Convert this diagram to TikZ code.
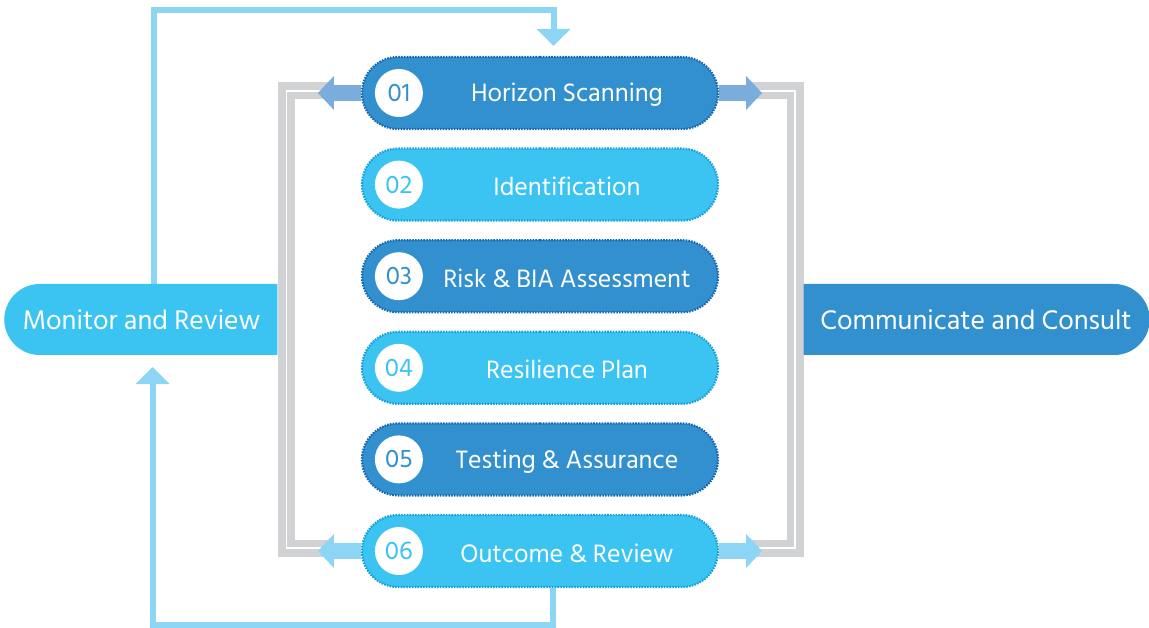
\documentclass[tikz,border=0pt]{standalone}
\usepackage{fontspec}
\setmainfont{Hind Siliguri}
\usetikzlibrary{positioning,shapes.misc,arrows.meta,backgrounds}
\definecolor{deepblue}{HTML}{3390CF}
\definecolor{skyblue}{HTML}{3BC4F2}
\definecolor{deepedge}{HTML}{1766B0}
\definecolor{skyedge}{HTML}{159FDC}
\definecolor{arrowblue}{HTML}{7AACDC}
\definecolor{paleblue}{HTML}{8DD5F5}
\definecolor{framegrey}{HTML}{D1D2D4}

\begin{document}
\begin{tikzpicture}[x=1pt,y=-1pt,node distance=17.4pt]
\tikzstyle{stage} = [rounded rectangle, minimum width=356pt, minimum height=72pt, inner sep=0pt, line width=2.2pt, dash pattern=on 1.6pt off 1.2pt]
\tikzstyle{darkstage} = [stage, fill=deepblue, draw=deepedge]
\tikzstyle{lightstage} = [stage, fill=skyblue, draw=skyedge]
\tikzstyle{num} = [circle, fill=white, minimum size=48pt, inner sep=0pt, font=\fontsize{26}{26}\selectfont]
\tikzstyle{stagetext} = [text=white, inner sep=0pt, yshift=-2pt, font=\fontsize{25.8}{27}\selectfont]
\tikzstyle{side} = [rounded rectangle, minimum height=71pt, inner sep=0pt, text=white, font=\fontsize{27.6}{29}\selectfont]
\tikzstyle{frame} = [draw=framegrey, line width=17pt]
\tikzstyle{frameline} = [draw=white, line width=1.8pt]
\tikzstyle{fatarrow} = [line width=16pt, -{Triangle[width=33pt,length=16pt]}]
\tikzstyle{cycleline} = [draw=paleblue, line width=6pt, -{Triangle[width=33pt,length=17pt]}]
\useasboundingbox (0,0) rectangle (1149,628);

% the six stages
\node (p1) [darkstage] at (540,93) {};
\node (p2) [lightstage, below=of p1] {};
\node (p3) [darkstage, below=of p2] {};
\node (p4) [lightstage, below=of p3] {};
\node (p5) [darkstage, below=of p4] {};
\node (p6) [lightstage, below=of p5] {};

\node (n1) [num, text=deepblue] at ([xshift=38pt]p1.west) {01};
\node (n2) [num, text=skyblue] at ([xshift=38pt]p2.west) {02};
\node (n3) [num, text=deepblue] at ([xshift=38pt]p3.west) {03};
\node (n4) [num, text=skyblue] at ([xshift=38pt]p4.west) {04};
\node (n5) [num, text=deepblue] at ([xshift=38pt]p5.west) {05};
\node (n6) [num, text=skyblue] at ([xshift=38pt]p6.west) {06};

\node (t1) [stagetext] at ([xshift=27pt]p1.center) {Horizon Scanning};
\node (t2) [stagetext] at ([xshift=27pt]p2.center) {Identification};
\node (t3) [stagetext] at ([xshift=27pt]p3.center) {Risk \& BIA Assessment};
\node (t4) [stagetext] at ([xshift=27pt]p4.center) {Resilience Plan};
\node (t5) [stagetext] at ([xshift=27pt]p5.center) {Testing \& Assurance};
\node (t6) [stagetext] at ([xshift=27pt]p6.center) {Outcome \& Review};

% side blocks
\node (mon) [side, fill=skyblue, rounded rectangle right arc=none, minimum width=273pt] at (141.5,319.5) {Monitor and Review};
\node (com) [side, fill=deepblue, rounded rectangle left arc=none, minimum width=346pt] at (976,319.5) {Communicate and Consult};

\coordinate (a1) at ([xshift=-43pt]p1.west);
\coordinate (a2) at ([xshift=43pt]p1.east);
\coordinate (a3) at ([xshift=-43pt]p6.west);
\coordinate (a4) at ([xshift=43pt]p6.east);
\coordinate (tl) at (153.5,10);
\coordinate (tr) at (553.5,10);
\coordinate (ttip) at (553.5,46);
\coordinate (bl) at (152.7,625);
\coordinate (br) at (552.7,625);
\coordinate (btip) at (152.7,367);

\begin{scope}[on background layer]
% grey brackets
\draw [frame] (330,91) -- (286.5,91) -- (286.5,548) -- (330,548);
\draw [frameline] (330,91) -- (286.5,91) -- (286.5,548) -- (330,548);
\draw [frame] (750,91) -- (795,91) -- (795,548) -- (750,548);
\draw [frameline] (750,91) -- (795,91) -- (795,548) -- (750,548);
% stage arrows
\draw [fatarrow, arrowblue] (p1.west) -- (a1);
\draw [fatarrow, arrowblue] (p1.east) -- (a2);
\draw [fatarrow, paleblue] (p6.west) -- (a3);
\draw [fatarrow, paleblue] (p6.east) -- (a4);
% outer loop
\draw [cycleline] (tl |- mon.north) -- (tl) -- (tr) -- (ttip);
\draw [cycleline] (br |- p6.south) -- (br) -- (bl) -- (btip);
\end{scope}
\end{tikzpicture}
\end{document}
